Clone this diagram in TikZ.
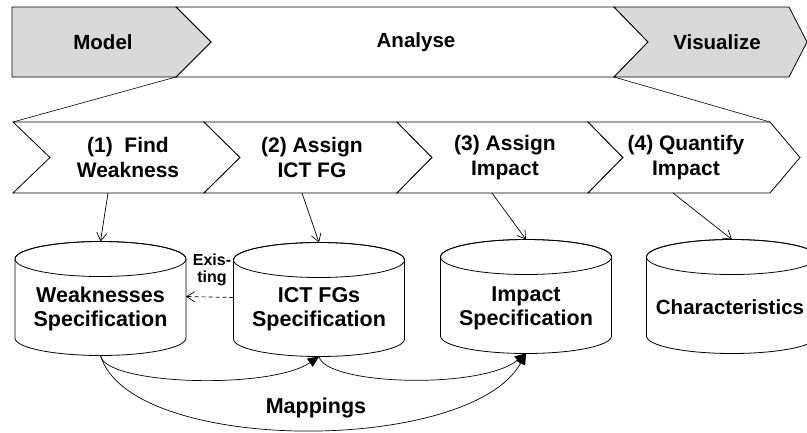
\documentclass[tikz,border=0pt]{standalone}
\usepackage{fontspec}
\setmainfont{Liberation Sans}
\usetikzlibrary{arrows.meta}
\definecolor{phasegray}{HTML}{D9D9D9}
\tikzset{
  lbl/.style={font=\bfseries\fontsize{20.5}{24}\selectfont, align=center, inner sep=0pt},
  steplbl/.style={font=\bfseries\fontsize{21}{24.5}\selectfont, align=center, inner sep=0pt},
  dblbl/.style={font=\bfseries\fontsize{21.5}{24}\selectfont, align=center, inner sep=0pt},
  smalllbl/.style={font=\bfseries\fontsize{16}{17}\selectfont, align=center, inner sep=0pt},
  phase/.style={draw, line width=0.8pt, line join=miter},
  openarrow/.style={-{Straight Barb[length=8pt,width=10pt]}, line width=0.7pt},
  maparrow/.style={-{Triangle[length=11pt,width=10pt]}, line width=0.7pt},
  dbcyl/.pic={
    \path[draw, fill=white, line width=0.8pt] (-85.5,0) -- (-85.5,79)
      arc[start angle=180, end angle=360, x radius=85.5pt, y radius=17.5pt]
      -- (85.5,0)
      arc[start angle=0, end angle=180, x radius=85.5pt, y radius=17.5pt] -- cycle;
    \draw[line width=0.8pt] (0,0) ellipse[x radius=85.5pt, y radius=17.5pt];
    \coordinate (-top) at (0,-17.5);
    \coordinate (-bot) at (0,96.5);
    \coordinate (-w) at (-85.5,37.5);
    \coordinate (-e) at (85.5,37.5);
  }
}
\begin{document}
\begin{tikzpicture}[x=1pt, y=-1pt]
\useasboundingbox (0,0) rectangle (807,432);
\clip (0,0) rectangle (807,432);

% top phase bar
\path[phase, fill=white] (176,7) -- (614,7) -- (648,42) -- (614,77) -- (176,77) -- (211,42) -- cycle;
\path[phase, fill=phasegray] (12,7) -- (176,7) -- (211,42) -- (176,77) -- (12,77) -- cycle;
\path[phase, fill=phasegray] (614,7) -- (789,7) -- (807,42) -- (789,77) -- (614,77) -- (648,42) -- cycle;
\node[lbl] (tmodel) at (103,42.5) {Model};
\node[lbl] (tanal) at (416,42.5) {Analyse};
\node[lbl] (tvis) at (717,42.5) {Visualize};

% zoom lines
\coordinate (zl1) at (176,77);
\coordinate (zl2) at (13,122);
\coordinate (zr1) at (614,77);
\coordinate (zr2) at (770,122);
\draw[line width=0.6pt] (zl1) -- (zl2);
\draw[line width=0.6pt] (zr1) -- (zr2);

% step chevrons
\path[phase, fill=white] (13,122) -- (204,122) -- (240,157.5) -- (204,193) -- (13,193) -- (50,157.5) -- cycle;
\path[phase, fill=white] (204,122) -- (397,122) -- (432,157.5) -- (397,193) -- (204,193) -- (240,157.5) -- cycle;
\path[phase, fill=white] (397,122) -- (588,122) -- (623,157.5) -- (588,193) -- (397,193) -- (432,157.5) -- cycle;
\path[phase, fill=white] (588,122) -- (770,122) -- (800,157.5) -- (770,193) -- (588,193) -- (623,157.5) -- cycle;
\node[steplbl] (s1) at (128,157.5) {(1)\ \ Find\\Weakness};
\node[steplbl] (s2) at (312,157.5) {(2) Assign\\ICT FG};
\node[steplbl] (s3) at (505,157.5) {(3) Assign\\Impact};
\node[steplbl] (s4) at (686,157.5) {(4) Quantify\\Impact};
\coordinate (s1b) at (108,193);
\coordinate (s2b) at (302,193);
\coordinate (s3b) at (492,193);
\coordinate (s4b) at (673,193);

% databases
\pic (wdb) at (100.5,259) {dbcyl};
\pic (idb) at (319,260) {dbcyl};
\pic (mdb) at (526,257) {dbcyl};
\pic (cdb) at (732,257) {dbcyl};
\node[dblbl] (wtext) at (100.5,309) {Weaknesses\\Specification};
\node[dblbl] (itext) at (319,309) {ICT FGs\\Specification};
\node[dblbl] (mtext) at (526,308) {Impact\\Specification};
\node[lbl] (ctext) at (730,307) {Characteristics};

% step -> database arrows
\draw[openarrow] (s1b) -- (wdb-top);
\draw[openarrow] (s2b) -- (idb-top);
\draw[openarrow] (s3b) -- (mdb-top);
\draw[openarrow] (s4b) -- (cdb-top);

% existing
\draw[openarrow, dashed, dash pattern=on 4pt off 3pt] (idb-w) -- (wdb-e);
\node[smalllbl] (exist) at (212,270) {Exis-\\ting};

% mappings
\draw[maparrow] (wdb-bot) .. controls (105,385) and (270,390) .. (idb-bot);
\draw[maparrow] (idb-bot) .. controls (325,385) and (480,390) .. (mdb-bot);
\draw[maparrow] (wdb-bot) .. controls (130,455) and (470,455) .. (mdb-bot);
\node[dblbl] (map) at (316,408) {Mappings};
\end{tikzpicture}
\end{document}
